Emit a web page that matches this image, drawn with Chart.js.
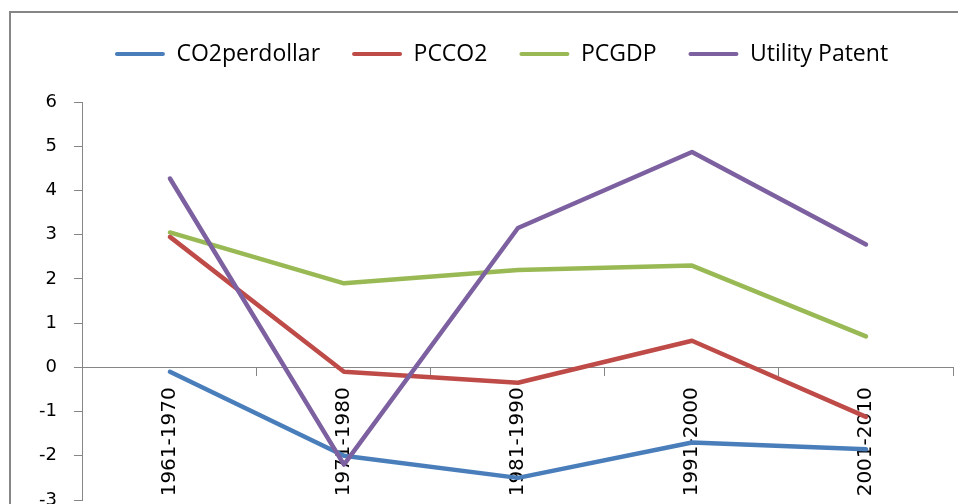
<!DOCTYPE html>
<html>
<head>
<meta charset="utf-8">
<script src="https://cdn.jsdelivr.net/npm/chart.js@4.4.1/dist/chart.umd.min.js"></script>
<style>
  html, body { margin: 0; padding: 0; background: #fff; overflow: hidden; width: 958px; height: 504px; }
  #frame { position: absolute; left: 9px; top: 11px; width: 1000px; height: 600px; border: 2px solid #868686; box-sizing: border-box; }
  #wrap { position: absolute; left: 0; top: 0; width: 980px; height: 540px; }
</style>
</head>
<body>
<div id="frame"></div>
<div id="wrap"><canvas id="c"></canvas></div>
<script>
const categories = ['1961-1970', '1971-1980', '1981-1990', '1991-2000', '2001-2010'];
const co2perdollar = [-0.1, -2.0, -2.5, -1.7, -1.85];
const pcco2 = [2.95, -0.1, -0.35, 0.6, -1.12];
const pcgdp = [3.05, 1.9, 2.2, 2.3, 0.7];
const utilityPatent = [4.27, -2.2, 3.15, 4.87, 2.78];
const seriesNames = ['CO2perdollar', 'PCCO2', 'PCGDP', 'Utility Patent'];
const seriesColors = ['#4A7EBB', '#BE4B48', '#98B954', '#7D60A0'];
const yMin = -3, yMax = 6, yStep = 1;

const seriesValues = [co2perdollar, pcco2, pcgdp, utilityPatent];

const legendGap = {
  id: 'legendGap',
  beforeInit(chart) {
    const origFit = chart.legend.fit;
    chart.legend.fit = function () {
      origFit.bind(chart.legend)();
      this.height += 26.5;
    };
  },
  afterLayout(chart) {
    chart.legend.left += 14;
    chart.legend.right += 14;
  }
};

new Chart(document.getElementById('c'), {
  type: 'line',
  data: {
    labels: categories,
    datasets: seriesValues.map((vals, i) => ({
      label: seriesNames[i],
      data: vals,
      borderColor: seriesColors[i],
      backgroundColor: seriesColors[i],
      borderWidth: 4.5,
      pointRadius: 0,
      tension: 0,
      fill: false,
      borderCapStyle: 'round',
      borderJoinStyle: 'round',
      order: seriesNames.length - i
    }))
  },
  options: {
    responsive: true,
    maintainAspectRatio: false,
    devicePixelRatio: 1,
    animation: false,
    layout: { padding: { top: 10.5, left: 22, right: 27, bottom: 40 } },
    plugins: {
      tooltip: { enabled: false },
      legend: {
        position: 'top',
        labels: {
          boxWidth: 50,
          boxHeight: 4,
          padding: 32,
          color: '#000',
          font: { family: 'Open Sans', size: 23 },
          generateLabels(chart) {
            return chart.data.datasets.map((ds, i) => ({
              text: ds.label,
              fillStyle: ds.borderColor,
              strokeStyle: ds.borderColor,
              lineWidth: 0,
              borderRadius: 2,
              fontColor: '#000',
              hidden: false,
              datasetIndex: i
            }));
          }
        }
      }
    },
    scales: {
      x: {
        position: { y: 0 },
        offset: true,
        grid: { offset: true, drawOnChartArea: false, drawTicks: true, tickLength: 8, color: '#868686', lineWidth: 1 },
        border: { display: true, color: '#868686', width: 1 },
        ticks: { minRotation: 90, maxRotation: 90, autoSkip: false, padding: 12, color: '#000', font: { family: 'DejaVu Sans', size: 20 } }
      },
      y: {
        min: yMin,
        max: yMax,
        ticks: { stepSize: yStep, padding: 17, color: '#000', font: { family: 'DejaVu Sans', size: 18 } },
        grid: { drawOnChartArea: false, drawTicks: true, tickLength: 9, color: '#868686', lineWidth: 1 },
        border: { display: true, color: '#868686', width: 1 }
      }
    }
  },
  plugins: [legendGap]
});
</script>
</body>
</html>
